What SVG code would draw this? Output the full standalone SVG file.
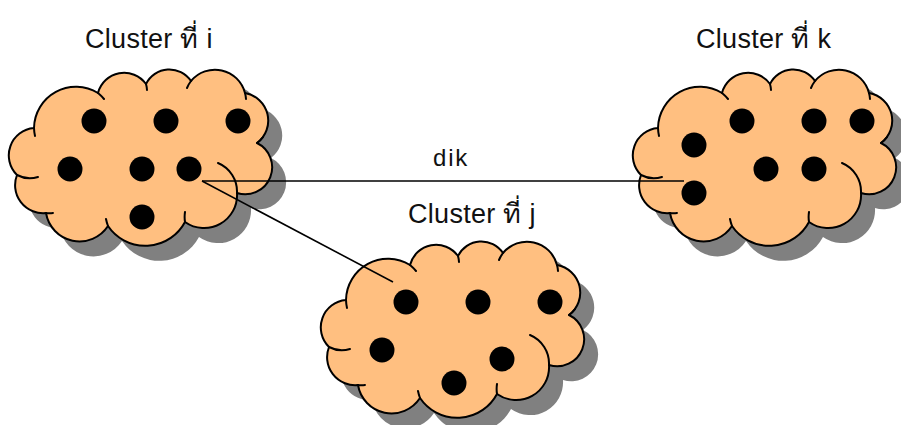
<svg xmlns="http://www.w3.org/2000/svg" xmlns:xlink="http://www.w3.org/1999/xlink" width="901" height="425" viewBox="0 0 901 425">
  <style>
    .shadow { fill: #808080; }
    .body { fill: #FFBF80; stroke: #000; stroke-width: 2; stroke-linejoin: round; }
    .tails { fill: none; stroke: #000; stroke-width: 2; stroke-linecap: round; }
    .dot { fill: #000; }
    .edge { fill: none; stroke: #000; stroke-width: 1.6; }
    .label { font-family: "Liberation Sans", "Noto Sans", "DejaVu Sans", sans-serif; font-size: 27px; fill: #111; letter-spacing: 0.3px; }
    .dist { font-size: 24px; letter-spacing: 1.8px; }
  </style>
  <defs>
    <!-- cloud outline built from circular lobes, traced clockwise -->
    <path id="cloud-outline" d="M34,128
      A42,42 0 0 1 98,93
      A27,27 0 0 1 146,84
      A26,26 0 0 1 191,81
      A31,31 0 0 1 245,93
      A28,28 0 0 1 257,143
      A27,27 0 0 1 237,193
      A33,33 0 0 1 185,222
      A45,45 0 0 1 108,226
      A34,34 0 0 1 46,213
      A28,28 0 0 1 17,175
      A27.5,27.5 0 0 1 34,128 Z"/>
    <!-- short lobe continuations inside the cloud -->
    <path id="cloud-tails" d="M34,128 A42,42 0 0 0 35,136
      M98,93 A42,42 0 0 1 104,99
      M146,84 A27,27 0 0 1 147,90
      M191,81 A31,31 0 0 0 187,88
      M245,93 A31,31 0 0 1 246,99
      M257,143 A27,27 0 0 0 263,137
      M218,163 A31,31 0 0 1 237,193
      M185,222 A33,33 0 0 1 185,212
      M108,226 A45,45 0 0 1 106,219
      M46,213 A28,28 0 0 0 53,213
      M17,175 A27.5,27.5 0 0 0 38,177"/>
  </defs>

  <g id="cluster-i">
    <use xlink:href="#cloud-outline" class="shadow" transform="translate(14,15)"/>
    <use xlink:href="#cloud-outline" class="body"/>
    <use xlink:href="#cloud-tails" class="tails"/>
    <circle class="dot" cx="94" cy="121" r="12.5"/>
    <circle class="dot" cx="166" cy="121" r="12.5"/>
    <circle class="dot" cx="238" cy="121" r="12.5"/>
    <circle class="dot" cx="70" cy="169" r="12.5"/>
    <circle class="dot" cx="142" cy="169" r="12.5"/>
    <circle class="dot" cx="189" cy="169" r="12.5"/>
    <circle class="dot" cx="142" cy="217" r="12.5"/>
    <text class="label" x="85" y="48">Cluster ที่ i</text>
  </g>

  <g id="cluster-k">
    <g transform="translate(624,0)">
      <use xlink:href="#cloud-outline" class="shadow" transform="translate(14,15)"/>
      <use xlink:href="#cloud-outline" class="body"/>
      <use xlink:href="#cloud-tails" class="tails"/>
    </g>
    <circle class="dot" cx="742" cy="121" r="12.5"/>
    <circle class="dot" cx="814" cy="121" r="12.5"/>
    <circle class="dot" cx="862" cy="121" r="12.5"/>
    <circle class="dot" cx="694" cy="145" r="12.5"/>
    <circle class="dot" cx="766" cy="169" r="12.5"/>
    <circle class="dot" cx="814" cy="169" r="12.5"/>
    <circle class="dot" cx="694" cy="193" r="12.5"/>
    <text class="label" x="696" y="48">Cluster ที่ k</text>
  </g>

  <g id="cluster-j">
    <g transform="translate(312,172)">
      <use xlink:href="#cloud-outline" class="shadow" transform="translate(14,15)"/>
      <use xlink:href="#cloud-outline" class="body"/>
      <use xlink:href="#cloud-tails" class="tails"/>
    </g>
    <circle class="dot" cx="406" cy="302" r="12.5"/>
    <circle class="dot" cx="478" cy="302" r="12.5"/>
    <circle class="dot" cx="550" cy="302" r="12.5"/>
    <circle class="dot" cx="382" cy="350" r="12.5"/>
    <circle class="dot" cx="502" cy="359" r="12.5"/>
    <circle class="dot" cx="454" cy="383" r="12.5"/>
    <text class="label" x="408" y="223">Cluster ที่ j</text>
  </g>

  <g id="connectors">
    <line class="edge" x1="202" y1="181" x2="684" y2="181"/>
    <line class="edge" x1="202" y1="181" x2="393" y2="282"/>
    <text class="label dist" x="433" y="166">dik</text>
  </g>
</svg>
